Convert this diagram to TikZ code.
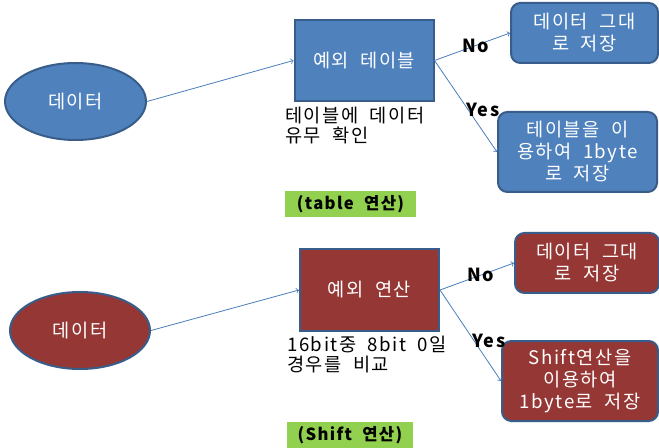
\documentclass[tikz,border=0pt]{standalone}
\usepackage{fontspec}
\setmainfont{Noto Sans CJK KR}[LetterSpace=8,WordSpace=2]
\usetikzlibrary{shapes.geometric}
\definecolor{blue}{RGB}{79,129,189}
\definecolor{red}{RGB}{149,55,53}
\definecolor{green}{RGB}{146,208,80}
\definecolor{darkblue}{RGB}{56,93,138}
\definecolor{arrowblue}{RGB}{74,126,187}
\tikzset{
  shapetext/.style={text=white, align=center, font=\fontsize{14}{16.5}\selectfont, inner sep=0pt},
  note/.style={anchor=north west, inner sep=0pt, align=left, font=\fontsize{14}{15}\selectfont},
  answer/.style={inner sep=0pt, font=\fontsize{13.5}{15}\selectfont\bfseries},
  tag/.style={fill=green, inner sep=0pt, font=\fontsize{12.5}{14}\selectfont\bfseries},
  link/.style={->, draw=arrowblue, line width=0.6pt}
}

\begin{document}
\begin{tikzpicture}[x=0.75pt,y=0.75pt,yscale=-1,xscale=1]
\useasboundingbox (0,0) rectangle (659,448);

%Shape: Ellipse (table)
\node [ellipse, draw=darkblue, line width=1.5pt, fill=blue, minimum width=105.75pt, minimum height=57.75pt, shapetext] (datatop) at (75.5,101.5) {데이터};
%Shape: Rectangle (table)
\node [rectangle, draw=darkblue, line width=1.5pt, fill=blue, minimum width=104.25pt, minimum height=60.75pt, shapetext] (tabletop) at (364,60.5) {예외 테이블};
%Shape: Rounded Rect (table, No)
\node [rectangle, rounded corners=7pt, draw=darkblue, line width=1.5pt, fill=blue, minimum width=110.25pt, minimum height=45pt, shapetext] (notop) at (584.5,33) {데이터 그대\\로 저장};
%Shape: Rounded Rect (table, Yes)
\node [rectangle, rounded corners=7pt, draw=darkblue, line width=1.5pt, fill=blue, minimum width=119.25pt, minimum height=60pt, shapetext] (yestop) at (577.5,152) {테이블을 이\\용하여 1byte\\로 저장};

%Shape: Ellipse (shift)
\node [ellipse, draw=darkblue, line width=1.5pt, fill=red, minimum width=105pt, minimum height=57.75pt, shapetext] (databot) at (80,330.5) {데이터};
%Shape: Rectangle (shift)
\node [rectangle, draw=darkblue, line width=1.5pt, fill=red, minimum width=104.25pt, minimum height=61.5pt, shapetext] (shiftbot) at (369.5,290) {예외 연산};
%Shape: Rounded Rect (shift, No)
\node [rectangle, rounded corners=7pt, draw=darkblue, line width=1.5pt, fill=red, minimum width=108pt, minimum height=45pt, shapetext] (nobot) at (587,263) {데이터 그대\\로 저장};
%Shape: Rounded Rect (shift, Yes)
\node [rectangle, rounded corners=7pt, draw=darkblue, line width=1.5pt, fill=red, minimum width=117pt, minimum height=60pt, shapetext] (yesbot) at (580,381) {Shift연산을\\이용하여\\1byte로 저장};

%Straight Lines
\draw [link] (datatop.east) -- (tabletop.west);
\draw [link] (tabletop.east) -- (notop.west);
\draw [link] (tabletop.east) -- (yestop.west);
\draw [link] (databot.east) -- (shiftbot.west);
\draw [link] (shiftbot.east) -- (nobot.west);
\draw [link] (shiftbot.east) -- (yesbot.west);

% Text Node
\node [note] (checktop) at (285,107) {테이블에 데이터\\유무 확인};
% Text Node
\node [note] (checkbot) at (287,336) {16bit중 8bit 0일\\경우를 비교};
% Text Node
\node [answer] (notoplbl) at (476,46) {No};
% Text Node
\node [answer] (yestoplbl) at (483,110) {Yes};
% Text Node
\node [answer] (nobotlbl) at (481,275) {No};
% Text Node
\node [answer] (yesbotlbl) at (489,341) {Yes};
% Text Node
\node [tag, minimum width=98.25pt, minimum height=19.5pt] (tagtop) at (350.5,204) {(table 연산)};
% Text Node
\node [tag, minimum width=94.5pt, minimum height=20.25pt] (tagbot) at (350,435) {(Shift 연산)};

\end{tikzpicture}
\end{document}
